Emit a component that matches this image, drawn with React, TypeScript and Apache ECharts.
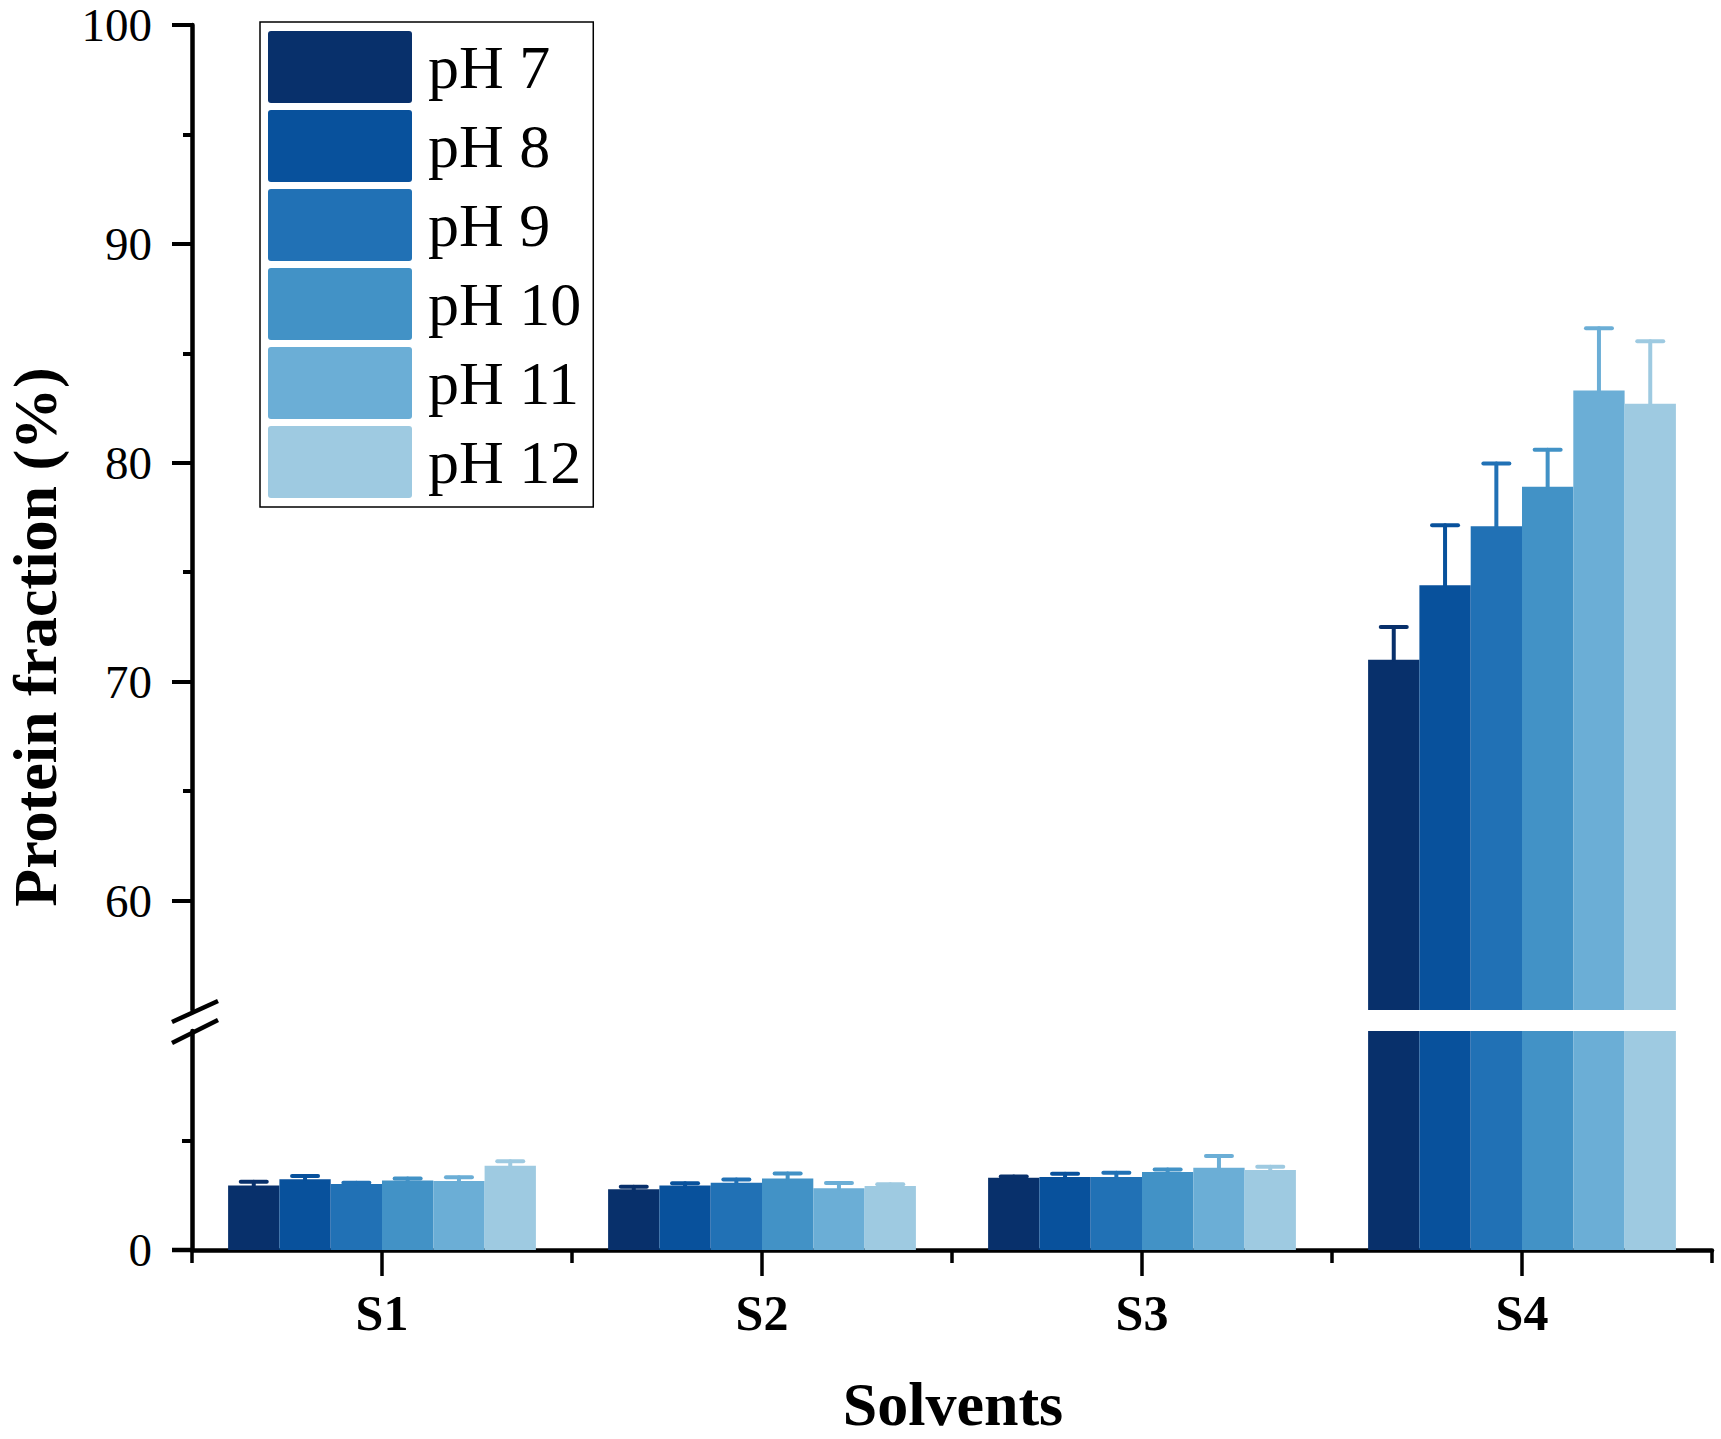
import React, { useEffect, useRef } from "react";
import * as echarts from "echarts";

const categories = ["S1", "S2", "S3", "S4"];
const phNames = ["pH 7", "pH 8", "pH 9", "pH 10", "pH 11", "pH 12"];
const colors = ["#08306b", "#08519c", "#2171b5", "#4292c6", "#6baed6", "#9ecae1"];

// values per pH series, across S1..S4
const ph7 = [2.94, 2.77, 3.3, 71.0];
const ph8 = [3.23, 2.95, 3.33, 74.4];
const ph9 = [3.01, 3.07, 3.33, 77.1];
const ph10 = [3.17, 3.26, 3.56, 78.9];
const ph11 = [3.15, 2.82, 3.76, 83.3];
const ph12 = [3.85, 2.92, 3.65, 82.7];

// error (upper half) per pH series
const err7 = [0.18, 0.12, 0.06, 1.5];
const err8 = [0.15, 0.1, 0.15, 2.75];
const err9 = [0.06, 0.15, 0.2, 2.87];
const err10 = [0.09, 0.23, 0.12, 1.7];
const err11 = [0.17, 0.24, 0.53, 2.85];
const err12 = [0.2, 0.08, 0.15, 2.85];

const upperLabels = [60, 70, 80, 90, 100];
const upperMinor = [65, 75, 85, 95];
const lowerLabels = [0];
const lowerMinor = [5];

const values = [ph7, ph8, ph9, ph10, ph11, ph12];
const errors = [err7, err8, err9, err10, err11, err12];

const FONT = "'Liberation Serif', 'Times New Roman', serif";
const BAR_GAP = 0.19;
const LEGEND_ICON = "path://M3,0 L141,0 Q144,0 144,3 L144,69 Q144,72 141,72 L3,72 Q0,72 0,69 L0,3 Q0,0 3,0 Z";

export default function App() {
  const ref = useRef<HTMLDivElement>(null);
  useEffect(() => {
    if (!ref.current) return;
    const chart = echarts.init(ref.current, null, { renderer: "svg" });

    const upperErr: any[] = [];
    const lowerErr: any[] = [];
    values.forEach((arr, p) => {
      arr.forEach((v, c) => {
        const item = [c, v, errors[p][c], p];
        if (v > 55) upperErr.push(item);
        else lowerErr.push(item);
      });
    });

    const renderErr = (params: any, api: any) => {
      const c = api.value(0);
      const v = api.value(1);
      const e = api.value(2);
      const p = api.value(3);
      const base = api.coord([c, v]);
      const top = api.coord([c, v + e]);
      const band = api.size([1, 0])[0];
      const bw = (band * (1 - BAR_GAP)) / 6;
      const x = base[0] + (p - 2.5) * bw;
      const half = 13;
      const style = { stroke: colors[p], lineWidth: 4, lineCap: "round" };
      return {
        type: "group",
        children: [
          { type: "line", shape: { x1: x, y1: base[1], x2: x, y2: top[1] }, style },
          { type: "line", shape: { x1: x - half, y1: top[1], x2: x + half, y2: top[1] }, style },
        ],
      };
    };

    const series: any[] = [];
    values.forEach((arr, p) => {
      series.push({
        name: phNames[p],
        type: "bar",
        xAxisIndex: 0,
        yAxisIndex: 0,
        data: arr,
        barGap: "0%",
        barCategoryGap: "19%",
        itemStyle: { color: colors[p] },
        clip: true,
      });
      series.push({
        name: phNames[p],
        type: "bar",
        xAxisIndex: 1,
        yAxisIndex: 2,
        data: arr,
        barGap: "0%",
        barCategoryGap: "19%",
        itemStyle: { color: colors[p] },
        clip: true,
      });
    });
    series.push({
      type: "custom",
      xAxisIndex: 0,
      yAxisIndex: 0,
      data: upperErr,
      renderItem: renderErr,
      z: 5,
      encode: { x: 0, y: 1 },
    });
    series.push({
      type: "custom",
      xAxisIndex: 1,
      yAxisIndex: 2,
      data: lowerErr,
      renderItem: renderErr,
      z: 5,
      encode: { x: 0, y: 1 },
    });

    const axisLine = { show: true, lineStyle: { color: "#000", width: 4.5 } };
    const yLabel = { margin: 40, fontFamily: FONT, fontSize: 47, lineHeight: 48, color: "#000" };

    chart.setOption({
      animation: false,
      backgroundColor: "#fff",
      legend: {
        data: phNames,
        orient: "vertical",
        left: 260,
        top: 22,
        itemWidth: 144,
        itemHeight: 72,
        itemGap: 7,
        icon: LEGEND_ICON,
        borderColor: "#000",
        borderWidth: 1.5,
        padding: [9, 12, 9, 8],
        textStyle: { fontFamily: FONT, fontSize: 62, color: "#000", padding: [0, 0, 0, 11] },
      },
      grid: [
        { left: 192, top: 25, width: 1520, height: 985 },
        { left: 192, top: 1031, width: 1520, height: 219 },
      ],
      xAxis: [
        { type: "category", gridIndex: 0, data: categories, show: false },
        {
          type: "category",
          gridIndex: 1,
          data: categories,
          position: "bottom",
          axisLine,
          axisTick: { show: true, length: 13, lineStyle: { color: "#000", width: 3.5 } },
          axisLabel: {
            margin: 38,
            fontFamily: FONT,
            fontWeight: "bold",
            fontSize: 50,
            color: "#000",
          },
        },
        {
          type: "category",
          gridIndex: 1,
          data: categories,
          position: "bottom",
          axisLine: { show: false },
          axisTick: { show: true, alignWithLabel: true, length: 26, lineStyle: { color: "#000", width: 3.5 } },
          axisLabel: { show: false },
        },
      ],
      yAxis: [
        {
          type: "value",
          gridIndex: 0,
          min: 55,
          max: 100,
          interval: 5,
          splitLine: { show: false },
          axisLine,
          axisTick: { show: true, length: 20, customValues: upperLabels, lineStyle: { color: "#000", width: 4 } },
          axisLabel: { ...yLabel, customValues: upperLabels },
        },
        {
          type: "value",
          gridIndex: 0,
          min: 55,
          max: 100,
          interval: 5,
          position: "left",
          splitLine: { show: false },
          axisLine: { show: false },
          axisTick: { show: true, length: 9, customValues: upperMinor, lineStyle: { color: "#000", width: 4 } },
          axisLabel: { show: false },
        },
        {
          type: "value",
          gridIndex: 1,
          min: 0,
          max: 10,
          interval: 5,
          splitLine: { show: false },
          axisLine,
          axisTick: { show: true, length: 20, customValues: lowerLabels, lineStyle: { color: "#000", width: 4 } },
          axisLabel: { ...yLabel, customValues: lowerLabels },
        },
        {
          type: "value",
          gridIndex: 1,
          min: 0,
          max: 10,
          interval: 5,
          position: "left",
          splitLine: { show: false },
          axisLine: { show: false },
          axisTick: { show: true, length: 10, customValues: lowerMinor, lineStyle: { color: "#000", width: 4 } },
          axisLabel: { show: false },
        },
      ],
      graphic: [
        {
          type: "line",
          shape: { x1: 172, y1: 1250, x2: 194, y2: 1250 },
          style: { stroke: "#000", lineWidth: 4.5 },
        },
        {
          type: "line",
          shape: { x1: 172, y1: 1022, x2: 218, y2: 1001 },
          style: { stroke: "#000", lineWidth: 4.5 },
        },
        {
          type: "line",
          shape: { x1: 172, y1: 1043, x2: 218, y2: 1020 },
          style: { stroke: "#000", lineWidth: 4.5 },
        },
        {
          type: "text",
          x: 35,
          y: 637,
          rotation: Math.PI / 2,
          style: {
            text: "Protein fraction (%)",
            font: `bold 62px ${FONT}`,
            fill: "#000",
            align: "center",
            verticalAlign: "middle",
          },
        },
        {
          type: "text",
          x: 953,
          y: 1404,
          style: {
            text: "Solvents",
            font: `bold 62px ${FONT}`,
            fill: "#000",
            align: "center",
            verticalAlign: "middle",
          },
        },
      ],
      series,
    });

    return () => chart.dispose();
  }, []);

  return (
    <div
      ref={ref}
      style={{ position: "absolute", left: 0, top: 0, width: 1721, height: 1439 }}
    />
  );
}
